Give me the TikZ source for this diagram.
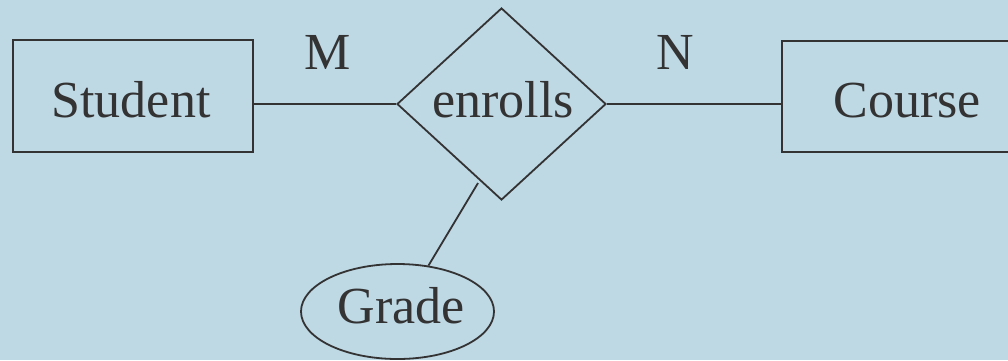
\documentclass[tikz,border=0pt]{standalone}
\usepackage{fontspec}
\setmainfont{Liberation Serif}
\usetikzlibrary{shapes.geometric}
\definecolor{bg}{RGB}{190,216,228}
\definecolor{ink}{RGB}{51,51,51}
\begin{document}
\begin{tikzpicture}[x=1pt,y=-1pt,
  lbl/.style={anchor=base,inner sep=0pt,text=ink,font=\fontsize{52}{60}\selectfont},
  entity/.style={draw=ink,line width=1.8pt,rectangle,inner sep=0pt},
  relation/.style={draw=ink,line width=1.8pt,diamond,inner sep=0pt},
  attr/.style={draw=ink,line width=1.8pt,ellipse,inner sep=0pt},
  conn/.style={draw=ink,line width=1.8pt}]
\fill[bg] (0,0) rectangle (1008,360);
\useasboundingbox (0,0) rectangle (1008,360);
\clip (0,0) rectangle (1008,360);
\node[entity,minimum width=240pt,minimum height=112pt] (student) at (133,96) {};
\node[entity,minimum width=250pt,minimum height=111pt] (course) at (907,96.5) {};
\node[relation,minimum width=209pt,minimum height=192pt] (rel) at (501.5,104) {};
\node[attr,minimum width=193pt,minimum height=95pt] (grade) at (397.5,311.5) {};
\node[lbl] (tstudent) at (131,117) {Student};
\node[lbl] (tcourse) at (907,117) {Course};
\node[lbl] (trel) at (503,117) {enrolls};
\node[lbl] (tgrade) at (401,323) {Grade};
\node[lbl] (m) at (328,69) {M};
\node[lbl] (n) at (675.5,69) {N};
\coordinate (gtop) at (478,183);
\draw[conn] (student.east |- rel.west) -- (rel.west);
\draw[conn] (rel.east) -- (course.west |- rel.east);
\draw[conn] (gtop) -- (grade.56);
\end{tikzpicture}
\end{document}
